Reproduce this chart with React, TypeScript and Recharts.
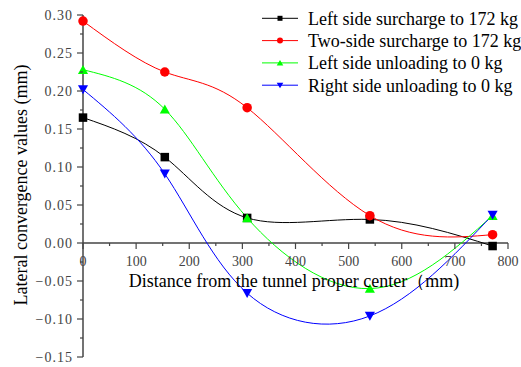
import { LineChart, Line, XAxis, YAxis, ReferenceLine, Legend } from "recharts";

// distance from the tunnel centre (mm) and convergence per load case (mm)
const distance = [0, 154, 309, 540, 771];
const leftSurcharge = [0.165, 0.113, 0.033, 0.031, -0.004];
const twoSideSurcharge = [0.292, 0.225, 0.178, 0.036, 0.011];
const leftUnloading = [0.228, 0.176, 0.033, -0.06, 0.036];
const rightUnloading = [0.202, 0.091, -0.066, -0.096, 0.037];

const xTicks = [0, 50, 100, 150, 200, 250, 300, 350, 400, 450, 500, 550, 600, 650, 700, 750, 800];
const yTicks = [
  -0.15, -0.125, -0.1, -0.075, -0.05, -0.025, 0, 0.025, 0.05, 0.075, 0.1, 0.125, 0.15, 0.175, 0.2,
  0.225, 0.25, 0.275, 0.3,
];

const data = distance.map((x, i) => ({
  x,
  leftSurcharge: leftSurcharge[i],
  twoSideSurcharge: twoSideSurcharge[i],
  leftUnloading: leftUnloading[i],
  rightUnloading: rightUnloading[i],
}));

const series = [
  { key: "leftSurcharge", name: "Left side surcharge to 172 kg", color: "#000000", shape: "square" },
  { key: "twoSideSurcharge", name: "Two-side surcharge to 172 kg", color: "#ff0000", shape: "circle" },
  { key: "leftUnloading", name: "Left side unloading to 0 kg", color: "#00ff00", shape: "up" },
  { key: "rightUnloading", name: "Right side unloading to 0 kg", color: "#0000ff", shape: "down" },
];

const W = 521;
const H = 367;
const M = { top: 15, right: 13, bottom: 9, left: 0 };
const Y_AXIS_W = 83;
const X_AXIS_H = 1;
const Y_MIN = -0.15;
const Y_MAX = 0.3;
const PLOT_H = H - M.top - M.bottom - X_AXIS_H;
const Y_ZERO = M.top + (PLOT_H * Y_MAX) / (Y_MAX - Y_MIN);
const AXIS_X = M.left + Y_AXIS_W;
const AXIS = "#444444";
const SERIF = "'Times New Roman', 'Liberation Serif', 'DejaVu Serif', serif";

const serif = (size: number) => ({ fontFamily: SERIF, fontSize: size });

function Marker({ shape, color, cx, cy, s }: { shape: string; color: string; cx: number; cy: number; s: number }) {
  if (shape === "square") {
    return <rect x={cx - s / 2} y={cy - s / 2} width={s} height={s} fill={color} />;
  }
  if (shape === "circle") {
    return <circle cx={cx} cy={cy} r={s / 2 + 0.5} fill={color} />;
  }
  const hw = s / 2 + 0.8;
  const hh = s / 2;
  const pts =
    shape === "up"
      ? `${cx},${cy - hh - 0.5} ${cx + hw},${cy + hh} ${cx - hw},${cy + hh}`
      : `${cx},${cy + hh + 0.5} ${cx + hw},${cy - hh} ${cx - hw},${cy - hh}`;
  return <polygon points={pts} fill={color} />;
}

const dotFor = (shape: string, color: string) => (props: any) => (
  <Marker key={`dot-${props.index}`} shape={shape} color={color} cx={props.cx} cy={props.cy} s={8.5} />
);

// x ticks sit on the zero line, not at the bottom of the plot
const XTick = (props: any) => {
  const { x, payload } = props;
  const v = payload.value;
  const major = v % 100 === 0;
  return (
    <g>
      <line x1={x} x2={x} y1={Y_ZERO} y2={Y_ZERO + (major ? 6 : 3)} stroke={AXIS} strokeWidth={1.2} />
      {major && (
        <text x={x} y={Y_ZERO + 23} textAnchor="middle" style={serif(14)} fill="#444">
          {v}
        </text>
      )}
    </g>
  );
};

const fmtY = (v: number) => (v < 0 ? "\u2212" : "") + Math.abs(v).toFixed(2);

const YTick = (props: any) => {
  const { y, payload } = props;
  const v = payload.value;
  const major = Math.round(v * 1000) % 50 === 0;
  return (
    <g>
      <line x1={AXIS_X - (major ? 6 : 3)} x2={AXIS_X} y1={y} y2={y} stroke={AXIS} strokeWidth={1.2} />
      {major && (
        <text x={AXIS_X - 10} y={y + 5} textAnchor="end" style={{ ...serif(14), letterSpacing: 1 }} fill="#444">
          {fmtY(v)}
        </text>
      )}
    </g>
  );
};

const LegendBox = () => (
  <svg width={263} height={100} style={{ display: "block" }}>
    {series.map((s, i) => {
      const cy = 18.3 + i * 22.3;
      return (
        <g key={s.key}>
          <line x1={4} x2={40} y1={cy} y2={cy} stroke={s.color} strokeWidth={1} />
          <Marker shape={s.shape} color={s.color} cx={22} cy={cy} s={5} />
          <text x={50} y={cy + 6.5} style={serif(18)} fill="#000">
            {s.name}
          </text>
        </g>
      );
    })}
  </svg>
);

export default function App() {
  return (
    <div style={{ position: "absolute", left: 0, top: 0, width: W, height: H, background: "#fff" }}>
      <LineChart width={W} height={H} data={data} margin={M}>
        <XAxis
          dataKey="x"
          type="number"
          domain={[0, 800]}
          ticks={xTicks}
          interval={0}
          height={X_AXIS_H}
          axisLine={false}
          tickLine={false}
          tick={<XTick />}
        />
        <YAxis
          type="number"
          domain={[Y_MIN, Y_MAX]}
          ticks={yTicks}
          interval={0}
          width={Y_AXIS_W}
          axisLine={{ stroke: AXIS, strokeWidth: 1.5 }}
          tickLine={false}
          tick={<YTick />}
        />
        <ReferenceLine y={0} stroke={AXIS} strokeWidth={1.5} />
        <Legend
          layout="vertical"
          align="center"
          verticalAlign="middle"
          wrapperStyle={{ left: 258, top: 0, width: 263 }}
          content={<LegendBox />}
        />
        {series.map((s) => (
          <Line
            key={s.key}
            dataKey={s.key}
            name={s.name}
            type="natural"
            stroke={s.color}
            strokeWidth={1}
            dot={dotFor(s.shape, s.color)}
            activeDot={false}
            isAnimationActive={false}
          />
        ))}
      </LineChart>
      <svg width={W} height={H} style={{ position: "absolute", left: 0, top: 0, pointerEvents: "none" }}>
        <text x={27} y={185} transform="rotate(-90 27 185)" textAnchor="middle" style={serif(18)} fill="#000">
          Lateral convergence values (mm)
        </text>
        <text x={294} y={287} textAnchor="middle" style={serif(18)} fill="#000">
          Distance from the tunnel proper center（mm)
        </text>
      </svg>
    </div>
  );
}
